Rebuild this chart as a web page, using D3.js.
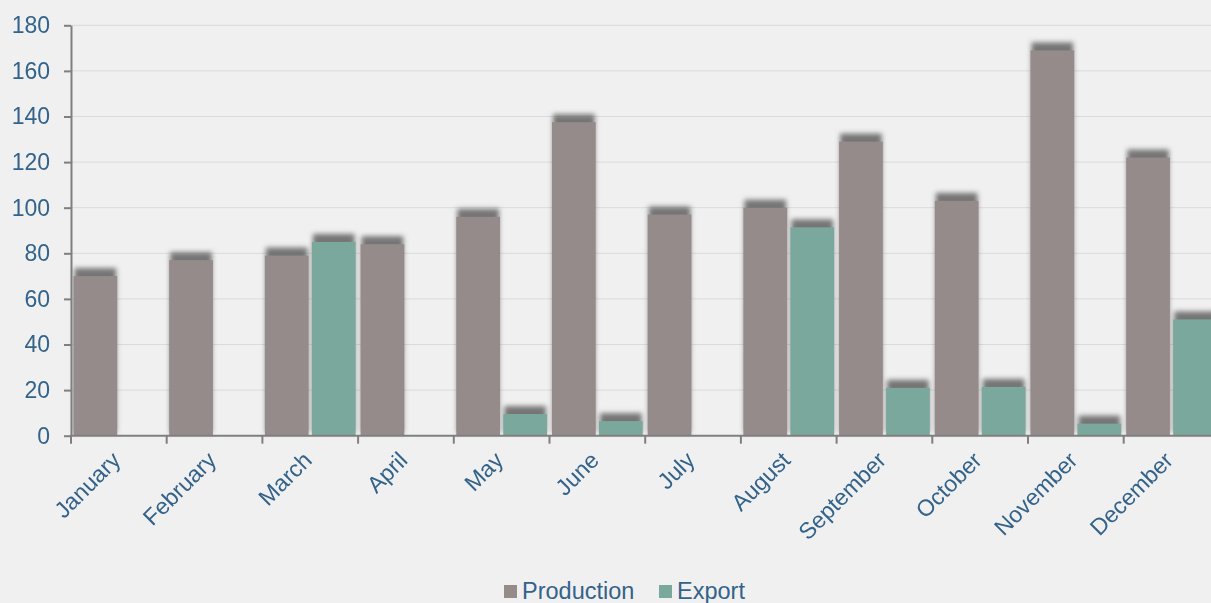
<!DOCTYPE html>
<html>
<head>
<meta charset="utf-8">
<script src="https://cdn.jsdelivr.net/npm/d3@7"></script>
<style>
  html, body { margin: 0; padding: 0; background: #f0f0f0; overflow: hidden; }
  svg { display: block; font-family: "Liberation Sans", Arial, sans-serif; }
</style>
</head>
<body>
<div id="chart"></div>
<script>
const months = ['January', 'February', 'March', 'April', 'May', 'June',
  'July', 'August', 'September', 'October', 'November', 'December'];
const seriesNames = ['Production', 'Export'];
const production = [70, 77, 79, 84, 96, 137.5, 97, 100, 129, 103, 169, 122];
const exportVals = [0, 0, 85, 0, 9.5, 6.4, 0, 91.4, 21, 21.4, 5.3, 51];
const yTicks = [0, 20, 40, 60, 80, 100, 120, 140, 160, 180];

const COLORS = {
  Production: '#958b8a',
  Export: '#7ba89d',
};
const TEXT_COLOR = '#33628b';
const FONT_SIZE = '23px';

const width = 1211, height = 603;
const margin = { left: 71, top: 25.3 };
const plotBottom = 435.7;
const plotRight = 71 + 12 * 95.7; // runs past the window edge, like the reference

const rows = months.map((m, i) => ({ month: m, Production: production[i], Export: exportVals[i] }));
const barData = rows.flatMap(r => seriesNames
  .map(s => ({ month: r.month, key: s, value: r[s] }))
  .filter(v => v.value > 0));

const svg = d3.select('#chart').append('svg')
  .attr('width', width)
  .attr('height', height)
  .style('background', '#f0f0f0');

// blur for the shadow layer, region covers the whole picture
svg.append('defs').append('filter')
  .attr('id', 'blur')
  .attr('filterUnits', 'userSpaceOnUse')
  .attr('x', 0).attr('y', 0).attr('width', width).attr('height', height)
  .append('feGaussianBlur').attr('stdDeviation', 2.4);

const x0 = d3.scaleBand().domain(months).range([margin.left, plotRight]);
const x1 = d3.scaleBand().domain(seriesNames).range([0, x0.bandwidth()])
  .paddingInner(0.07).paddingOuter(0.053);
const y = d3.scaleLinear().domain([0, 180]).range([plotBottom, margin.top]);

// grid lines
svg.append('g')
  .selectAll('line')
  .data(yTicks.filter(t => t > 0))
  .join('line')
  .attr('x1', margin.left).attr('x2', width)
  .attr('y1', d => y(d)).attr('y2', d => y(d))
  .attr('stroke', '#dadada')
  .attr('stroke-width', 1);

// shadows (shifted up, blurred)
svg.append('g')
  .attr('filter', 'url(#blur)')
  .selectAll('rect')
  .data(barData)
  .join('rect')
  .attr('x', d => x0(d.month) + x1(d.key) + 1)
  .attr('width', x1.bandwidth() - 2)
  .attr('y', d => y(d.value) - 8)
  .attr('height', d => y(0) - y(d.value) + 5)
  .attr('fill', '#5f5f5f')
  .attr('opacity', 0.85);

// bars
svg.append('g')
  .selectAll('rect')
  .data(barData)
  .join('rect')
  .attr('x', d => x0(d.month) + x1(d.key))
  .attr('width', x1.bandwidth())
  .attr('y', d => y(d.value))
  .attr('height', d => y(0) - y(d.value))
  .attr('fill', d => COLORS[d.key]);

// y axis
const yAxis = svg.append('g')
  .attr('transform', `translate(${margin.left},0)`)
  .call(d3.axisLeft(y).tickValues(yTicks).tickSize(7).tickPadding(14).tickSizeOuter(0));
yAxis.select('.domain').attr('stroke', '#7f7f7f').attr('stroke-width', 2);
yAxis.selectAll('.tick line').attr('stroke', '#7f7f7f').attr('stroke-width', 2);
yAxis.selectAll('.tick text')
  .attr('fill', TEXT_COLOR)
  .style('font-size', FONT_SIZE)
  .style('font-family', '"Liberation Sans", Arial, sans-serif');

// x axis: baseline + ticks at band boundaries
const xAxis = svg.append('g');
xAxis.append('line')
  .attr('x1', margin.left - 1).attr('x2', width)
  .attr('y1', y(0)).attr('y2', y(0))
  .attr('stroke', '#7f7f7f').attr('stroke-width', 2);
xAxis.selectAll('line.tk')
  .data(months)
  .join('line')
  .attr('class', 'tk')
  .attr('x1', d => x0(d)).attr('x2', d => x0(d))
  .attr('y1', y(0)).attr('y2', y(0) + 8)
  .attr('stroke', '#7f7f7f').attr('stroke-width', 2);

xAxis.selectAll('text')
  .data(months)
  .join('text')
  .attr('transform', d => `translate(${x0(d) + x0.bandwidth() / 2 + 3},${y(0) + 26}) rotate(-45)`)
  .attr('text-anchor', 'end')
  .attr('fill', TEXT_COLOR)
  .style('font-size', '23px')
  .text(d => d);

// legend
const legend = svg.append('g').attr('transform', 'translate(504,599)');
const legendItems = [
  { key: 'Production', x: 0 },
  { key: 'Export', x: 155 },
];
const li = legend.selectAll('g').data(legendItems).join('g')
  .attr('transform', d => `translate(${d.x},0)`);
li.append('rect')
  .attr('x', 0).attr('y', -14)
  .attr('width', 13).attr('height', 13)
  .attr('fill', d => COLORS[d.key]);
li.append('text')
  .attr('x', 18).attr('y', 0)
  .attr('fill', TEXT_COLOR)
  .style('font-size', '23.5px')
  .text(d => d.key);
</script>
</body>
</html>
